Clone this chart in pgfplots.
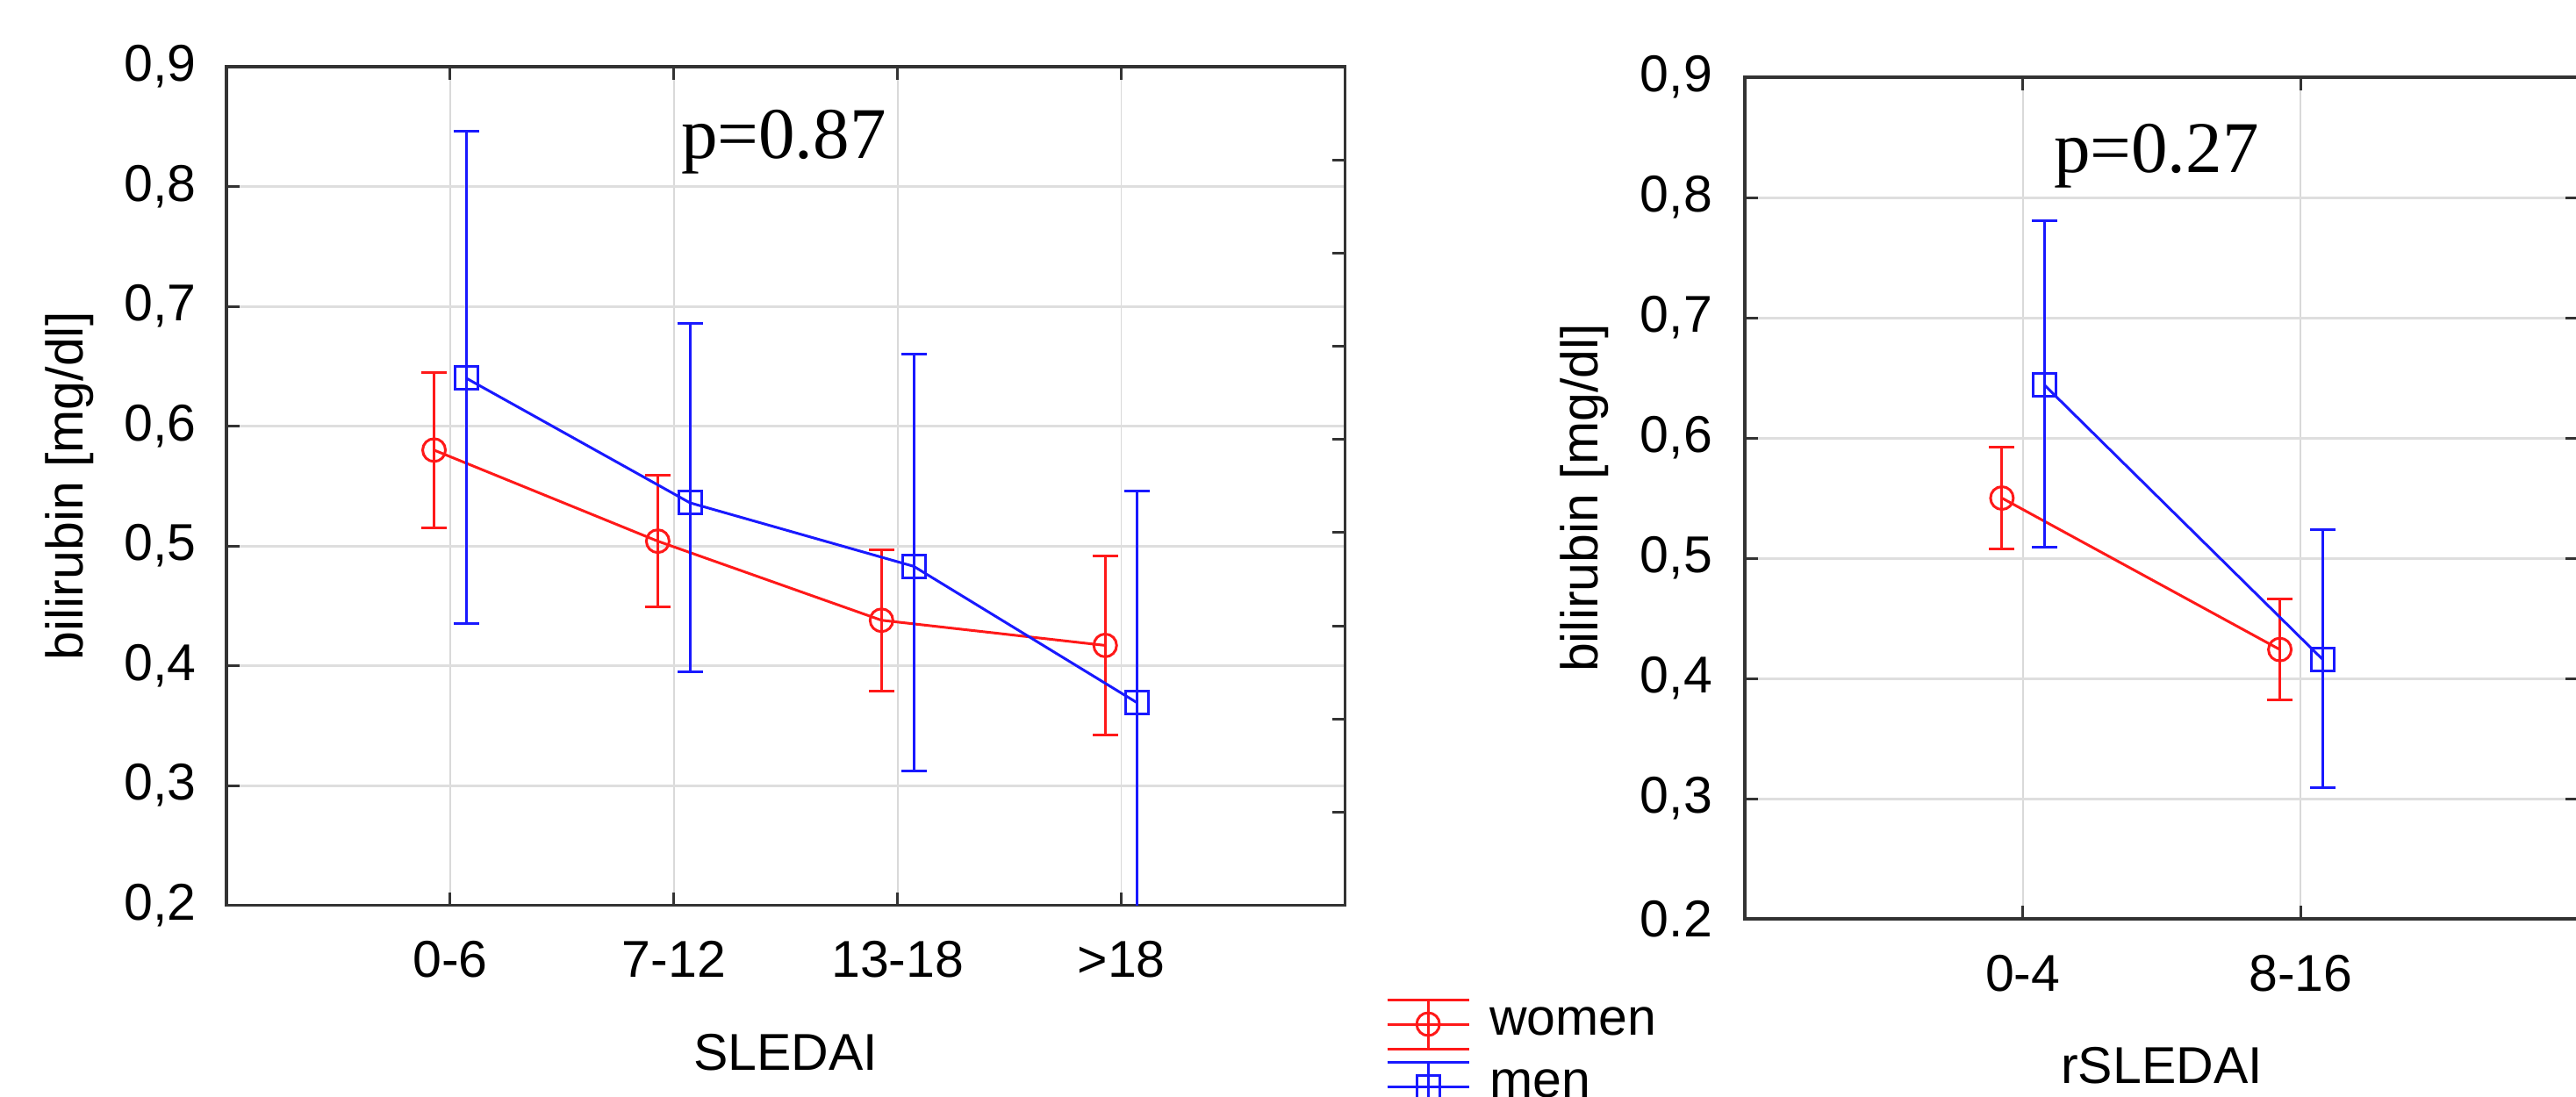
\documentclass[border=0pt]{standalone}
\usepackage{fontspec}
\setmainfont{Liberation Sans}
\newfontfamily\pserif{Liberation Serif}
\usepackage{pgfplots}
\pgfplotsset{compat=1.18}

\definecolor{wred}{RGB}{255,25,25}
\definecolor{mblue}{RGB}{25,25,255}
\newcommand{\tf}{\fontsize{11.8}{14}\selectfont}

\pgfplotsset{
  bili/.style={
    scale only axis, anchor=south west,
    ymin=0.2, ymax=0.9,
    ytick={0.2,0.3,0.4,0.5,0.6,0.7,0.8,0.9},
    axis line style={black!80, line width=0.7pt},
    tick align=inside, major tick length=3pt,
    every tick/.style={black!80, line width=0.6pt},
    xmajorgrids, ymajorgrids,
    x grid style={black!15, line width=0.35pt},
    y grid style={black!13, line width=0.6pt},
    tick label style={font=\tf, inner sep=0pt},
    xticklabel style={anchor=north, yshift=-8pt},
    label style={font=\tf, inner sep=0pt},
  },
  women/.style={wred, line width=0.6pt, mark=o, mark size=2.6pt,
    mark options={solid, fill=none, line width=0.6pt},
    error bars/.cd, y dir=both, y explicit, error mark=-,
    error mark options={rotate=90, wred, line width=0.6pt, mark size=2.9pt},
    error bar style={wred, line width=0.6pt}},
  men/.style={mblue, line width=0.6pt, mark=square, mark size=2.6pt,
    mark options={solid, fill=none, line width=0.6pt},
    error bars/.cd, y dir=both, y explicit, error mark=-,
    error mark options={rotate=90, mblue, line width=0.6pt, mark size=2.9pt},
    error bar style={mblue, line width=0.6pt}},
}

\begin{document}
\begin{tikzpicture}

% left panel: SLEDAI
\begin{axis}[bili,
    at={(51.6pt,43.46pt)}, width=254.9pt, height=191.16pt,
    xmin=0, xmax=5, xtick={1,2,3,4},
    xticklabels={0-6,7-12,13-18,{>18}},
    xtick pos=both, ytick pos=left,
    yticklabels={{0,2},{0,3},{0,4},{0,5},{0,6},{0,7},{0,8},{0,9}},
    yticklabel style={anchor=east, xshift=-6.7pt},
    xlabel={SLEDAI},
    xlabel style={at={(axis description cs:0.5,-0.152)}, anchor=north},
    ylabel={bilirubin [mg/dl]},
    ylabel style={at={(axis description cs:-0.1177,0.5)}, anchor=south},
    legend cell align=left,
    legend style={at={(axis description cs:1.0366,-0.1107)}, anchor=north west,
      draw=none, fill=none, inner sep=0pt, outer sep=0pt, row sep=2.4pt,
      nodes={inner sep=0pt, font=\tf},
      /tikz/every odd column/.append style={column sep=4.4pt}},
    legend image code/.code={
      \draw[#1] (0pt,5.6pt) -- (18.6pt,5.6pt);
      \draw[#1] (0pt,-5.6pt) -- (18.6pt,-5.6pt);
      \draw[#1] (0pt,0pt) -- (18.6pt,0pt);
      \draw[#1] (9.3pt,-5.6pt) -- (9.3pt,5.6pt);
      \draw[#1, only marks] plot coordinates {(9.3pt,0pt)};
    },
]
\addplot[women] coordinates {
  (0.928,0.580) +- (0,0.065)
  (1.928,0.504) +- (0,0.055)
  (2.928,0.438) +- (0,0.059)
  (3.928,0.417) +- (0,0.075)
};
\addplot[men] coordinates {
  (1.072,0.640) += (0,0.206) -= (0,0.205)
  (2.072,0.536) += (0,0.150) -= (0,0.141)
  (3.072,0.483) += (0,0.177) -= (0,0.171)
  (4.072,0.369) += (0,0.177) -= (0,0.177)
};
\legend{women,men}
\end{axis}

% right-side ticks of the left panel (independent scale)
\begin{axis}[scale only axis, anchor=south west,
    at={(51.6pt,43.46pt)}, width=254.9pt, height=191.16pt,
    xmin=0, xmax=1, ymin=0, ymax=9,
    hide x axis, axis y line*=right, y axis line style={draw=none},
    ytick={1,2,3,4,5,6,7,8}, yticklabels={},
    ytick align=inside, major tick length=3pt,
    every tick/.style={black!80, line width=0.6pt},
]
\end{axis}

% right panel: rSLEDAI
\begin{axis}[bili,
    at={(397.6pt,40.4pt)}, width=190pt, height=191.8pt,
    xmin=0, xmax=3, xtick={1,2},
    xticklabels={0-4,8-16},
    xtick pos=both, ytick pos=both,
    yticklabels={{0.2},{0,3},{0,4},{0,5},{0,6},{0,7},{0,8},{0,9}},
    yticklabel style={anchor=east, xshift=-7.2pt},
    xlabel={rSLEDAI},
    xlabel style={at={(axis description cs:0.5,-0.1512)}, anchor=north},
    ylabel={bilirubin [mg/dl]},
    ylabel style={at={(axis description cs:-0.1624,0.5)}, anchor=south},
]
\addplot[women] coordinates {
  (0.925,0.550) +- (0,0.042)
  (1.925,0.424) +- (0,0.042)
};
\addplot[men] coordinates {
  (1.078,0.644) += (0,0.137) -= (0,0.135)
  (2.078,0.416) += (0,0.108) -= (0,0.107)
};
\end{axis}

\node[font=\pserif\fontsize{16.6}{18}\selectfont, anchor=base west, inner sep=0pt]
  at (155pt,213.8pt) {p=0.87};
\node[font=\pserif\fontsize{16.6}{18}\selectfont, anchor=base west, inner sep=0pt]
  at (467.8pt,210.4pt) {p=0.27};

\pgfresetboundingbox
\path[use as bounding box] (0,0) rectangle (587pt,249.8pt);
\end{tikzpicture}
\end{document}
